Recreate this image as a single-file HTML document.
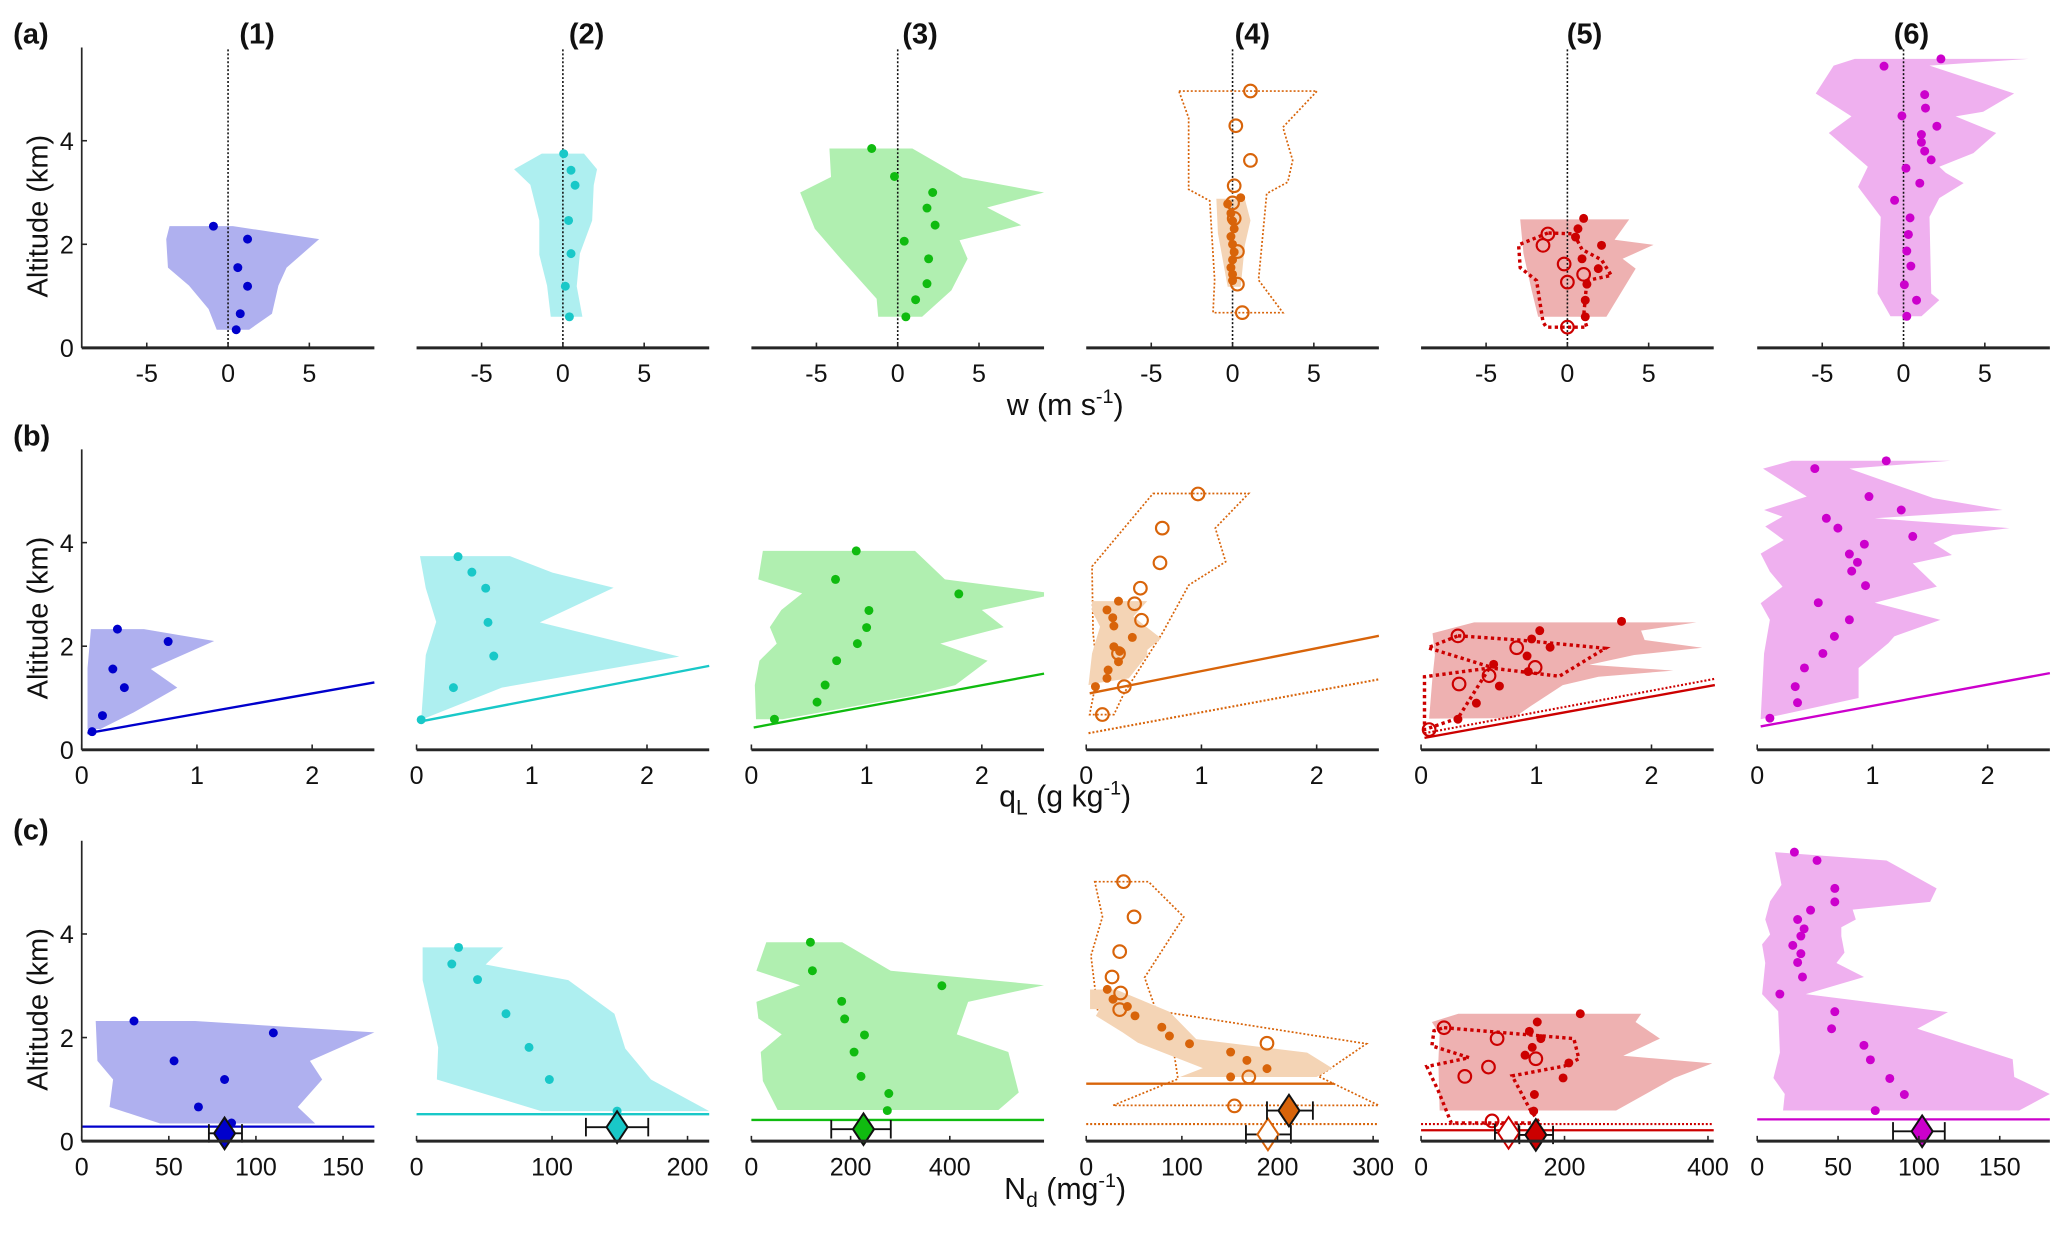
<!DOCTYPE html>
<html><head><meta charset="utf-8"><title>Vertical profiles</title>
<style>
html,body{margin:0;padding:0;background:#fff;}
svg{display:block;font-family:"Liberation Sans",Arial,sans-serif;}
</style></head>
<body>
<svg id="chart" width="2067" height="1236" viewBox="0 0 1568 938" preserveAspectRatio="none" xmlns="http://www.w3.org/2000/svg"></svg>
<script>
// ---------- data: row (a) vertical velocity w ----------
const aTicks=[-5,0,5];
const a1Env=[[-3.6,2.35],[0.3,2.35],[5.6,2.1],[3.6,1.55],[3.1,1.2],[2.7,0.66],[1.3,0.35],[-0.7,0.35],[-1.2,0.75],[-2.4,1.2],[-3.7,1.55],[-3.8,2.1]];
const a1Pts=[[-0.9,2.35],[1.2,2.1],[0.6,1.55],[1.2,1.19],[0.75,0.66],[0.5,0.35]];
const a2Env=[[-3,3.45],[-1.3,3.75],[1.3,3.75],[2.1,3.45],[1.9,3.14],[1.8,2.46],[1.05,1.82],[0.85,1.19],[1.2,0.6],[-0.75,0.6],[-0.97,1.2],[-1.45,1.8],[-1.45,2.46],[-2.0,3.15]];
const a2Pts=[[0.05,3.75],[0.5,3.43],[0.75,3.14],[0.35,2.46],[0.5,1.82],[0.15,1.19],[0.4,0.6]];
const a3Env=[[-4.2,3.85],[0.9,3.85],[4.0,3.29],[9,3.0],[5.5,2.71],[7.6,2.37],[3.8,2.08],[4.3,1.72],[3.3,1.11],[1.5,0.6],[-1.2,0.6],[-1.3,0.95],[-3.5,1.72],[-5.1,2.3],[-6.0,3.0],[-4.1,3.3]];
const a3Pts=[[-1.6,3.85],[-0.2,3.31],[2.15,3.0],[1.8,2.7],[2.3,2.37],[0.4,2.06],[1.9,1.72],[1.8,1.24],[1.1,0.93],[0.5,0.6]];
const a4Out=[[-3.3,4.96],[5.2,4.96],[3.1,4.26],[3.7,3.62],[3.4,3.2],[2.1,2.98],[1.6,1.31],[3.1,0.68],[-1.2,0.68],[-1.1,1.31],[-1.4,2.84],[-2.7,3.06],[-2.7,4.44]];
const a4Env=[[-1.0,2.88],[0.75,2.88],[1.1,2.46],[0.75,1.98],[0.5,1.18],[-0.3,1.18],[-0.9,2.21]];
const a4Open=[[1.1,4.96],[0.2,4.29],[1.1,3.62],[0.1,3.13],[0.0,2.8],[0.1,2.5],[0.3,1.86],[0.3,1.23],[0.6,0.68]];
const a4Pts=[[0.5,2.9],[-0.3,2.78],[-0.1,2.6],[0,2.45],[0.1,2.3],[-0.1,2.15],[0,2.0],[0.1,1.85],[0,1.7],[-0.1,1.55],[0,1.42],[0,1.3]];
const a5Env=[[-2.9,2.48],[3.8,2.48],[2.9,2.09],[5.3,1.99],[3.4,1.72],[4.2,1.53],[2.4,0.6],[-1.8,0.6],[-2.2,1.11],[-2.7,1.82]];
const a5Out=[[-1.2,2.22],[-3.0,1.99],[-2.9,1.55],[-1.9,1.3],[-1.5,0.5],[-1.3,0.4],[1.2,0.4],[1.0,0.6],[1.2,1.3],[2.7,1.4],[2.1,1.7],[0.9,1.9],[0.4,2.2]];
const a5Open=[[-1.2,2.2],[-1.5,1.98],[-0.2,1.62],[1.0,1.42],[0,1.27],[0,0.4]];
const a5Pts=[[1.0,2.5],[0.65,2.3],[0.5,2.14],[2.1,1.98],[0.9,1.72],[1.9,1.53],[1.2,1.23],[1.1,0.92],[1.1,0.6]];
const a6Env=[[-3.0,5.58],[7.7,5.58],[1.6,5.45],[6.8,4.91],[4.9,4.56],[3.2,4.47],[5.7,4.15],[4.3,3.76],[2.2,3.5],[2.6,3.38],[3.7,3.18],[2.2,2.89],[1.6,2.53],[1.7,1.05],[2.2,0.92],[1.1,0.61],[-0.8,0.61],[-1.6,1.05],[-1.4,2.53],[-2.8,3.11],[-2.2,3.5],[-4.6,4.15],[-3.2,4.47],[-5.4,4.91],[-4.3,5.45]];
const a6Pts=[[2.3,5.58],[-1.2,5.44],[1.3,4.89],[1.35,4.63],[-0.1,4.48],[2.05,4.28],[1.1,4.12],[1.1,3.97],[1.3,3.8],[1.7,3.63],[0.15,3.47],[1.0,3.18],[-0.55,2.85],[0.4,2.51],[0.3,2.19],[0.2,1.87],[0.45,1.58],[0.05,1.22],[0.8,0.92],[0.2,0.61]];

// ---------- data: row (b) liquid water q_L ----------
const bTicks=[0,1,2];
const b1Env=[[0.08,2.33],[0.54,2.33],[1.15,2.1],[0.6,1.56],[0.83,1.2],[0.45,0.72],[0.16,0.4],[0.05,0.4],[0.05,1.58]];
const b1Pts=[[0.31,2.33],[0.75,2.09],[0.27,1.56],[0.37,1.2],[0.18,0.66],[0.09,0.35]];
const b1Line=[[0.05,0.32],[2.54,1.3]];
const b2Env=[[0.03,3.74],[0.81,3.74],[1.18,3.42],[1.71,3.13],[1.07,2.46],[2.28,1.8],[0.74,1.2],[0.04,0.58],[0.08,1.83],[0.17,2.47],[0.08,3.12]];
const b2Pts=[[0.36,3.73],[0.48,3.43],[0.6,3.12],[0.62,2.46],[0.67,1.81],[0.32,1.2],[0.04,0.58]];
const b2Line=[[0.04,0.55],[2.54,1.62]];
const b3Env=[[0.1,3.84],[1.42,3.84],[1.68,3.29],[2.54,3.04],[2.54,2.96],[2.0,2.7],[2.19,2.37],[1.64,2.05],[2.05,1.72],[1.77,1.25],[1.39,1.04],[0.27,0.59],[0.04,0.59],[0.03,1.25],[0.07,1.72],[0.22,2.05],[0.16,2.37],[0.26,2.7],[0.44,3.02],[0.06,3.29]];
const b3Pts=[[0.91,3.84],[0.73,3.29],[1.8,3.01],[1.02,2.69],[1.0,2.36],[0.92,2.05],[0.74,1.72],[0.64,1.25],[0.57,0.92],[0.2,0.59]];
const b3Line=[[0.02,0.43],[2.54,1.47]];
const b4Out=[[0.58,4.95],[1.41,4.95],[1.12,4.28],[1.21,3.63],[0.89,3.18],[0.66,2.25],[0.33,1.1],[0.24,0.68],[0.03,0.68],[0.1,1.48],[0.06,2.25],[0.05,3.54]];
const b4Env=[[0.05,2.87],[0.53,2.87],[0.41,2.57],[0.65,2.15],[0.53,1.93],[0.53,1.83],[0.37,1.38],[0.1,1.29],[0.02,1.25],[0.05,1.86],[0.12,2.38],[0.05,2.68]];
const b4Open=[[0.97,4.94],[0.66,4.28],[0.64,3.61],[0.47,3.12],[0.42,2.82],[0.48,2.5],[0.28,1.86],[0.33,1.22],[0.14,0.68]];
const b4Pts=[[0.28,2.87],[0.18,2.7],[0.23,2.55],[0.24,2.39],[0.4,2.17],[0.24,1.99],[0.29,1.9],[0.28,1.7],[0.19,1.54],[0.18,1.38],[0.08,1.22]];
const b4Line=[[0.03,1.09],[2.54,2.2]];
const b4LineDot=[[0.02,0.32],[2.54,1.36]];
const b5Env=[[0.46,2.46],[2.39,2.46],[1.91,2.3],[1.94,2.12],[2.44,1.97],[1.85,1.83],[1.46,1.64],[2.19,1.53],[1.54,1.41],[1.23,1.25],[0.95,0.84],[0.8,0.61],[0.07,0.6],[0.1,1.41],[0.12,1.83],[0.1,2.25]];
const b5Out=[[0.32,2.2],[0.85,2.12],[1.6,1.96],[1.2,1.42],[0.6,1.58],[0.03,1.41],[0.03,0.39],[0.32,0.61],[0.6,1.6],[0.06,1.97]];
const b5Open=[[0.32,2.2],[0.83,1.97],[0.99,1.59],[0.59,1.43],[0.33,1.27],[0.07,0.39]];
const b5Pts=[[1.74,2.48],[1.03,2.3],[0.96,2.14],[1.12,1.98],[0.92,1.81],[0.63,1.65],[0.93,1.51],[0.68,1.23],[0.48,0.9],[0.32,0.59]];
const b5Line=[[0.03,0.23],[2.55,1.25]];
const b5LineDot=[[0.03,0.32],[2.55,1.37]];
const b6Env=[[0.3,5.58],[1.68,5.58],[0.8,5.43],[1.53,4.86],[2.13,4.63],[1.02,4.47],[2.19,4.28],[1.7,4.15],[1.53,3.99],[1.69,3.76],[1.35,3.6],[1.56,3.15],[1.02,2.84],[1.59,2.51],[1.19,2.19],[1.14,2.06],[0.88,1.58],[0.88,1.0],[0.03,0.59],[0.06,1.86],[0.11,2.51],[0.03,2.83],[0.22,3.15],[0.11,3.44],[0.03,3.79],[0.23,4.05],[0.07,4.31],[0.22,4.5],[0.06,4.63],[0.43,4.89],[0.05,5.43]];
const b6Pts=[[1.12,5.58],[0.5,5.43],[0.97,4.89],[1.25,4.63],[0.6,4.47],[0.7,4.28],[1.35,4.12],[0.93,3.97],[0.8,3.78],[0.87,3.62],[0.82,3.45],[0.94,3.17],[0.53,2.84],[0.8,2.51],[0.67,2.19],[0.57,1.86],[0.41,1.58],[0.33,1.22],[0.35,0.91],[0.11,0.61]];
const b6Line=[[0.03,0.45],[2.54,1.48]];

// ---------- data: row (c) droplet number N_d ----------
const c1Ticks=[0,50,100,150];
const c2Ticks=[0,100,200];
const c3Ticks=[0,200,400];
const c4Ticks=[0,100,200,300];
const c5Ticks=[0,200,400];
const c6Ticks=[0,50,100,150];
const cXmax=[168,216,590,306,408,181];
const c1Env=[[8,2.32],[65,2.32],[168,2.1],[131,1.55],[138,1.19],[124,0.66],[134,0.34],[45,0.34],[16,0.66],[18,1.19],[9,1.55]];
const c1Pts=[[30,2.32],[110,2.09],[53,1.55],[82,1.19],[67,0.66],[86,0.35]];
const c1H=[0.28];
const c1Dia=[82,0.15,73,92];
const c2Env=[[4.5,3.74],[64,3.74],[51,3.41],[112,3.11],[146,2.46],[154,1.79],[173,1.19],[216,0.58],[92,0.58],[15,1.19],[16,1.81],[4.5,3.11]];
const c2Pts=[[31,3.74],[26,3.42],[45,3.12],[66,2.46],[83,1.81],[98,1.19],[148,0.58]];
const c2H=[0.52];
const c2Dia=[148,0.27,125,171];
const c3Env=[[30,3.84],[183,3.84],[281,3.29],[590,3.01],[437,2.69],[414,2.06],[518,1.72],[539,0.94],[498,0.6],[53,0.6],[23,1.16],[19,1.72],[61,2.06],[14,2.37],[10,2.69],[98,3.01],[10,3.29]];
const c3Pts=[[119,3.84],[123,3.29],[384,3.0],[182,2.7],[188,2.36],[228,2.05],[207,1.72],[221,1.25],[277,0.92],[274,0.59]];
const c3H=[0.41];
const c3Dia=[226,0.23,161,281];
const c4Out=[[9,5.01],[65,5.01],[102,4.33],[61,3.16],[73,2.52],[293,1.88],[243,1.25],[306,0.69],[28,0.69],[96,1.2],[91,1.8],[12,2.52],[5,3.58],[17,4.33]];
const c4Env=[[4,2.93],[31,2.93],[87,2.5],[115,1.97],[231,1.71],[257,1.41],[241,1.24],[98,1.24],[122,1.41],[54,1.9],[38,2.1],[10,2.42],[14,2.55],[4,2.55]];
const c4Open=[[39,5.01],[50,4.33],[35,3.66],[27,3.17],[36,2.86],[35,2.54],[189,1.89],[170,1.24],[155,0.68]];
const c4Pts=[[22,2.93],[28,2.74],[43,2.6],[51,2.42],[79,2.2],[87,2.03],[108,1.88],[151,1.72],[168,1.56],[189,1.4],[151,1.24]];
const c4Solid=[0,259,1.11];
const c4H=[0.33];
const c4Dia=[212,0.59,189,237];
const c4DiaOpen=[190,0.13,167,214];
const c5Env=[[15,2.3],[52,2.46],[307,2.46],[299,2.3],[333,1.98],[282,1.65],[406,1.5],[353,1.22],[272,0.59],[26,0.59],[24,1.54],[26,2.06]];
const c5Out=[[32,2.19],[213,1.98],[220,1.59],[200,1.45],[127,1.26],[152,0.61],[165,0.35],[42,0.35],[24,0.97],[8,1.44],[67,1.61],[15,1.84],[18,2.13]];
const c5Open=[[32,2.19],[106,1.98],[160,1.59],[94,1.43],[61,1.25],[99,0.39]];
const c5Pts=[[222,2.46],[162,2.3],[151,2.12],[167,1.98],[155,1.81],[145,1.66],[206,1.51],[198,1.22],[158,0.9],[157,0.58]];
const c5H=[0.21];
const c5HDot=[0.33];
const c5Dia=[160,0.12,137,184];
const c5DiaOpen=[122,0.16,103,136];
const c6Env=[[11,5.58],[80,5.42],[111,4.88],[107,4.62],[59,4.47],[61,4.28],[52,4.13],[52,3.96],[54,3.64],[49,3.44],[66,3.17],[30,2.84],[118,2.49],[99,2.17],[158,1.58],[159,1.24],[181,0.91],[162,0.59],[16,0.59],[17,0.91],[10,1.22],[14,1.71],[13,2.51],[3,2.84],[5,3.44],[3,3.8],[8,3.99],[5,4.28],[8,4.63],[15,4.95]];
const c6Pts=[[23,5.58],[37,5.42],[48,4.88],[48,4.62],[33,4.46],[25,4.28],[29,4.1],[27,3.96],[22,3.78],[27,3.62],[25,3.45],[28,3.17],[14,2.84],[48,2.5],[46,2.17],[66,1.85],[70,1.57],[82,1.21],[91,0.9],[73,0.59]];
const c6H=[0.42];
const c6Dia=[102,0.19,84,116];

const yTicks=[0,2,4];
const colLabels=['(1)','(2)','(3)','(4)','(5)','(6)'];

// ---------- layout / style ----------
const NS='http://www.w3.org/2000/svg';
const svg=document.getElementById('chart');
const colX=[62,316,570,824,1078,1333];
const W=222;
const rowY0=[264,569,866];
const KM=39.3;
const YMAX=5.8;
const fills=['#afb0ef','#aeeff0','#b0efb0','#f4d4b5','#eeb1b1','#efb0ef'];
const marks=['#0000cc','#19c8c8','#10bb10','#d8640a','#cc0000','#cc00cc'];
const AX='#262626';

function mk(tag,attrs,parent){const e=document.createElementNS(NS,tag);for(const k in attrs)e.setAttribute(k,attrs[k]);(parent||svg).appendChild(e);return e;}
function xlim(row,col){if(row===0)return[-9,9];if(row===1)return[0,2.54];return[0,cXmax[col]];}
function sx(row,col,v){const l=xlim(row,col);return colX[col]+(v-l[0])/(l[1]-l[0])*W;}
function sy(row,a){return rowY0[row]-a*KM;}
function pts(row,col,arr){return arr.map(p=>sx(row,col,p[0]).toFixed(1)+','+sy(row,p[1]).toFixed(1)).join(' ');}

function env(g,row,col,arr,color){
  const e=mk('polygon',{points:pts(row,col,arr),fill:color,stroke:'none'},g);
  
  
}
function outline(g,row,col,arr,color,w,dash){
  const e=mk('polygon',{points:pts(row,col,arr),fill:'none',stroke:color,'stroke-width':w,'stroke-dasharray':dash},g);
  
  
}
function dots(g,row,col,arr,color){
  arr.forEach(p=>{
    const c=mk('circle',{cx:sx(row,col,p[0]),cy:sy(row,p[1]),r:3.4,fill:color},g);
    
    
  });
}
function opens(g,row,col,arr,color){
  arr.forEach(p=>{
    const c=mk('circle',{cx:sx(row,col,p[0]),cy:sy(row,p[1]),r:4.8,fill:'none',stroke:color,'stroke-width':1.6},g);
    
    
  });
}
function seg(g,row,col,arr,color,dash){
  const l=mk('line',{x1:sx(row,col,arr[0][0]),y1:sy(row,arr[0][1]),x2:sx(row,col,arr[1][0]),y2:sy(row,arr[1][1]),stroke:color,'stroke-width':dash?1.6:1.8,'stroke-dasharray':dash||'none'},g);
  
  
}
function hline(g,row,col,alt,color,dash,x0,x1){
  const l=mk('line',{x1:x0===undefined?colX[col]:sx(row,col,x0),x2:x1===undefined?colX[col]+W:sx(row,col,x1),y1:sy(row,alt),y2:sy(row,alt),stroke:color,'stroke-width':dash?1.6:1.8,'stroke-dasharray':dash||'none'},g);
  
  
}
function diamond(g,col,d,color,open){
  const row=2,x=sx(row,col,d[0]),y=sy(row,d[1]),xl=sx(row,col,d[2]),xh=sx(row,col,d[3]);
  const eb=mk('path',{d:`M${xl},${y}H${xh}M${xl},${y-7}V${y+7}M${xh},${y-7}V${y+7}`,stroke:'#111','stroke-width':1.4,fill:'none'},g);
  
  
  const dm=mk('polygon',{points:`${x},${y-12} ${x+8},${y} ${x},${y+12} ${x-8},${y}`,fill:open?'#fff':color,stroke:open?color:'#111','stroke-width':1.5},g);
  
  
}
function text(x,y,s,size,anchor,weight,g){
  const t=mk('text',{x:x,y:y,'font-size':size,'text-anchor':anchor||'middle','font-weight':weight||'normal',fill:'#111'},g);
  t.textContent=s;
  return t;
}
function axes(row,col,ticks){
  const g=mk('g',{});
  
  
  const y0=rowY0[row];
  mk('line',{x1:colX[col],x2:colX[col]+W,y1:y0,y2:y0,stroke:AX,'stroke-width':2.2},g);
  ticks.forEach(v=>{
    const x=sx(row,col,v);
    mk('line',{x1:x,x2:x,y1:y0,y2:y0-4,stroke:AX,'stroke-width':1.2},g);
    const t=text(x,y0+26,String(v).replace('-','-'),19,'middle','normal',g);
    
    
  });
  if(col===0){
    const gy=mk('g',{});
    
    
    mk('line',{x1:colX[0],x2:colX[0],y1:y0,y2:y0-YMAX*KM,stroke:AX,'stroke-width':1.3},gy);
    yTicks.forEach(v=>{
      const y=sy(row,v);
      mk('line',{x1:colX[0],x2:colX[0]+4,y1:y,y2:y,stroke:AX,'stroke-width':1.2},gy);
      const t=text(colX[0]-6,y+7,String(v),19,'end','normal',gy);
      
      
    });
    const ty=y0-YMAX*KM/2+14;
    const tt=mk('text',{x:0,y:0,'font-size':22,'text-anchor':'middle',fill:'#111',transform:`translate(36,${ty}) rotate(-90)`},gy);
    tt.textContent='Altitude (km)';
    
    
  }
}
function panel(row,col,name){
  const g=mk('g',{});
  
  
  return g;
}

// ---------- row (a) ----------
const aEnvs=[a1Env,a2Env,a3Env,null,a5Env,a6Env];
const aPts=[a1Pts,a2Pts,a3Pts,a4Pts,a5Pts,a6Pts];
for(let c=0;c<6;c++){
  const g=panel(0,c,'w-panel-'+(c+1));
  if(c===3){outline(g,0,3,a4Out,marks[3],1.3,'1.5,1.5');env(g,0,3,a4Env,fills[3]);}
  else env(g,0,c,aEnvs[c],fills[c]);
  const z=mk('line',{x1:sx(0,c,0),x2:sx(0,c,0),y1:rowY0[0],y2:rowY0[0]-YMAX*KM,stroke:'#111','stroke-width':1.2,'stroke-dasharray':'1.5,1.5'},g);
  
  
  if(c===4){outline(g,0,4,a5Out,marks[4],2.6,'2.5,2.5');opens(g,0,4,a5Open,marks[4]);}
  dots(g,0,c,aPts[c],marks[c]);
  if(c===3)opens(g,0,3,a4Open,marks[3]);
  axes(0,c,aTicks);
}
// ---------- row (b) ----------
const bEnvs=[b1Env,b2Env,b3Env,b4Env,b5Env,b6Env];
const bPts=[b1Pts,b2Pts,b3Pts,b4Pts,b5Pts,b6Pts];
const bLines=[b1Line,b2Line,b3Line,b4Line,b5Line,b6Line];
for(let c=0;c<6;c++){
  const g=panel(1,c,'ql-panel-'+(c+1));
  if(c===3)outline(g,1,3,b4Out,marks[3],1.3,'1.5,1.5');
  env(g,1,c,bEnvs[c],fills[c]);
  seg(g,1,c,bLines[c],marks[c]);
  if(c===3)seg(g,1,3,b4LineDot,marks[3],'1.5,1.5');
  if(c===4){seg(g,1,4,b5LineDot,marks[4],'1.5,1.5');outline(g,1,4,b5Out,marks[4],2.6,'2.5,2.5');opens(g,1,4,b5Open,marks[4]);}
  dots(g,1,c,bPts[c],marks[c]);
  if(c===3)opens(g,1,3,b4Open,marks[3]);
  axes(1,c,bTicks);
}
// ---------- row (c) ----------
const cEnvs=[c1Env,c2Env,c3Env,c4Env,c5Env,c6Env];
const cPts=[c1Pts,c2Pts,c3Pts,c4Pts,c5Pts,c6Pts];
const cHs=[c1H,c2H,c3H,c4H,c5H,c6H];
const cDias=[c1Dia,c2Dia,c3Dia,c4Dia,c5Dia,c6Dia];
const cTicksAll=[c1Ticks,c2Ticks,c3Ticks,c4Ticks,c5Ticks,c6Ticks];
for(let c=0;c<6;c++){
  const g=panel(2,c,'nd-panel-'+(c+1));
  if(c===3)outline(g,2,3,c4Out,marks[3],1.3,'1.5,1.5');
  env(g,2,c,cEnvs[c],fills[c]);
  if(c===3){hline(g,2,3,c4Solid[2],marks[3],null,c4Solid[0],c4Solid[1]);hline(g,2,3,c4H[0],marks[3],'1.5,1.5');}
  else hline(g,2,c,cHs[c][0],marks[c]);
  if(c===4){hline(g,2,4,c5HDot[0],marks[4],'1.5,1.5');outline(g,2,4,c5Out,marks[4],2.6,'2.5,2.5');opens(g,2,4,c5Open,marks[4]);}
  dots(g,2,c,cPts[c],marks[c]);
  if(c===3)opens(g,2,3,c4Open,marks[3]);
  axes(2,c,cTicksAll[c]);
  if(c===3)diamond(g,3,c4DiaOpen,marks[3],true);
  if(c===4)diamond(g,4,c5DiaOpen,marks[4],true);
  diamond(g,c,cDias[c],marks[c],false);
}

// ---------- labels ----------
const lblX=[195,445,698,950,1202,1450];
colLabels.forEach((s,i)=>{
  const t=text(lblX[i],33,s,22,'middle','bold');
  
  
});
[['(a)',33],['(b)',338],['(c)',637]].forEach(r=>{
  const t=text(10,r[1],r[0],22,'start','bold');
  
  
});
function xtitle(y,main,sub,sup,name){
  const t=mk('text',{x:808,y:y,'font-size':23,'text-anchor':'middle',fill:'#111'});
  
  
  const p=main.split('|');
  t.appendChild(document.createTextNode(p[0]));
  if(sub){const s=mk('tspan',{'font-size':16,dy:6},t);s.textContent=sub;}
  const a=mk('tspan',{dy:sub?-6:0},t);a.textContent=p[1];
  const s2=mk('tspan',{'font-size':15,dy:-9},t);s2.textContent=sup;
  const b=mk('tspan',{dy:9},t);b.textContent=')';
}
xtitle(315,'w| (m s','','-1','w-axis-title');
xtitle(612,'q| (g kg','L','-1','ql-axis-title');
xtitle(910,'N| (mg','d','-1','nd-axis-title');
</script>
</body></html>
